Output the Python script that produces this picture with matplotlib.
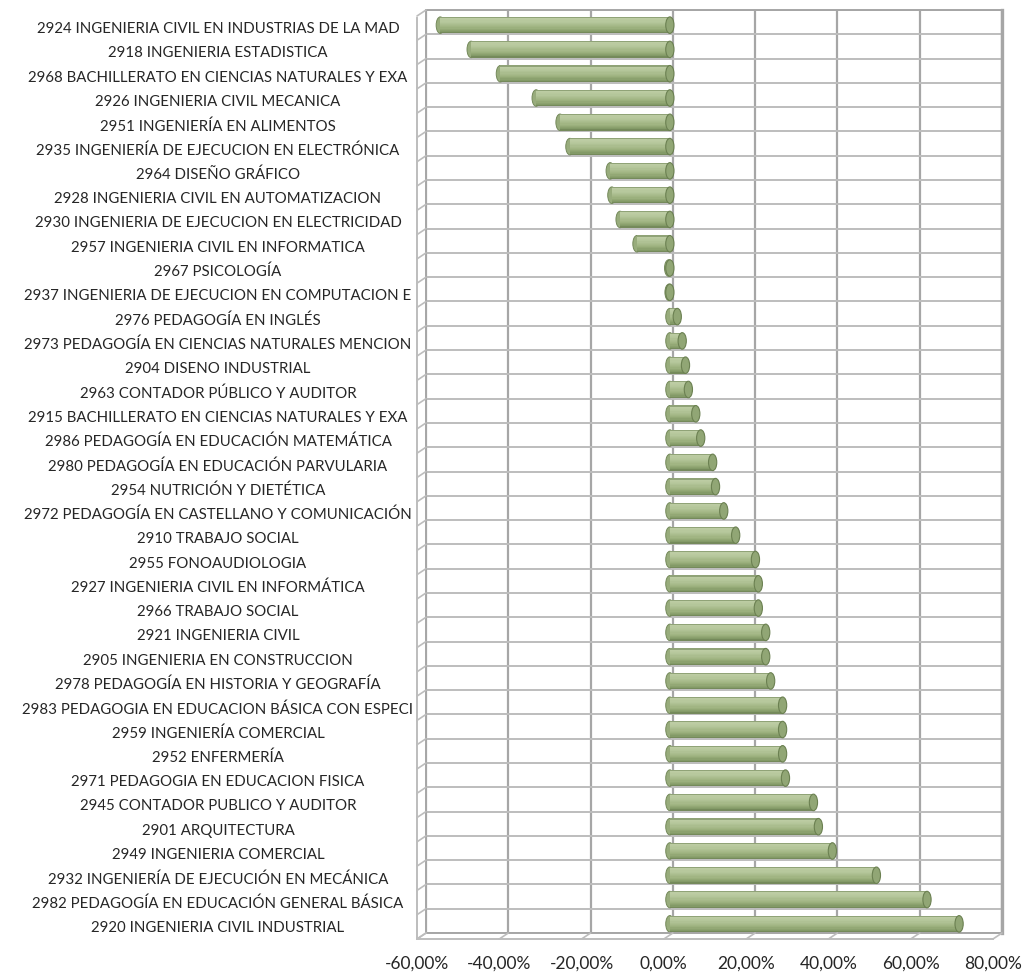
import numpy as np
import matplotlib
matplotlib.use("Agg")
import matplotlib.pyplot as plt
import matplotlib.transforms as mtransforms
from matplotlib.patches import Ellipse, ConnectionPatch

## Data (top to bottom)
carreras = [
    "2924 INGENIERIA CIVIL EN INDUSTRIAS DE LA MAD",
    "2918 INGENIERIA ESTADISTICA",
    "2968 BACHILLERATO EN CIENCIAS NATURALES Y EXA",
    "2926 INGENIERIA CIVIL MECANICA",
    "2951 INGENIERÍA EN ALIMENTOS",
    "2935 INGENIERÍA DE EJECUCION EN ELECTRÓNICA",
    "2964 DISEÑO GRÁFICO",
    "2928 INGENIERIA CIVIL EN AUTOMATIZACION",
    "2930 INGENIERIA DE EJECUCION EN ELECTRICIDAD",
    "2957 INGENIERIA CIVIL EN INFORMATICA",
    "2967 PSICOLOGÍA",
    "2937 INGENIERIA DE EJECUCION EN COMPUTACION E",
    "2976 PEDAGOGÍA EN INGLÉS",
    "2973 PEDAGOGÍA EN CIENCIAS NATURALES MENCION",
    "2904 DISENO INDUSTRIAL",
    "2963 CONTADOR PÚBLICO Y AUDITOR",
    "2915 BACHILLERATO EN CIENCIAS NATURALES Y EXA",
    "2986 PEDAGOGÍA EN EDUCACIÓN MATEMÁTICA",
    "2980 PEDAGOGÍA EN EDUCACIÓN PARVULARIA",
    "2954 NUTRICIÓN Y DIETÉTICA",
    "2972 PEDAGOGÍA EN CASTELLANO Y COMUNICACIÓN",
    "2910 TRABAJO SOCIAL",
    "2955 FONOAUDIOLOGIA",
    "2927 INGENIERIA CIVIL EN INFORMÁTICA",
    "2966 TRABAJO SOCIAL",
    "2921 INGENIERIA CIVIL",
    "2905 INGENIERIA EN CONSTRUCCION",
    "2978 PEDAGOGÍA EN HISTORIA Y GEOGRAFÍA",
    "2983 PEDAGOGIA EN EDUCACION BÁSICA CON ESPECI",
    "2959 INGENIERÍA COMERCIAL",
    "2952 ENFERMERÍA",
    "2971 PEDAGOGIA EN EDUCACION FISICA",
    "2945 CONTADOR PUBLICO Y AUDITOR",
    "2901 ARQUITECTURA",
    "2949 INGENIERIA COMERCIAL",
    "2932 INGENIERÍA DE EJECUCIÓN EN MECÁNICA",
    "2982 PEDAGOGÍA EN EDUCACIÓN GENERAL BÁSICA",
    "2920 INGENIERIA CIVIL INDUSTRIAL",
]
variacion = [
    -55.8, -48.3, -41.2, -32.5, -26.7, -24.3, -14.5, -14.1, -12.1, -8.0,
    -0.3, -0.2, 1.8, 3.0, 3.8, 4.5, 6.3, 7.5, 10.4, 11.1,
    13.1, 16.0, 20.8, 21.5, 21.5, 23.3, 23.3, 24.5, 27.4, 27.4,
    27.4, 28.1, 34.9, 36.1, 39.5, 50.2, 62.5, 70.3,
]
x_ticks = [-60, -40, -20, 0, 20, 40, 60, 80]

plt.rcParams["font.family"] = ["Lato", "DejaVu Sans"]

n = len(carreras)
fig = plt.figure(figsize=(10.24, 9.74), dpi=100)
ax = fig.add_axes([426/1024, 1 - 933/974, 576/1024, 923/974])
ax.set_xlim(x_ticks[0], x_ticks[-1])
ax.set_ylim(n - 0.5, -0.5)

grid_c = "#bdbdbd"
# back wall grid
for t in x_ticks:
    ax.axvline(t, color="#a6a6a6", lw=1.6, zorder=0)
for b in np.arange(-0.5, n, 1.0):
    ax.axhline(b, color=grid_c, lw=1.4, zorder=0)
for s in ax.spines.values():
    s.set_color("#a6a6a6")
    s.set_linewidth(1.4)
ax.spines["right"].set_linewidth(2.4)
ax.set_xticks([])
ax.set_yticks([])

# depth transforms (front plane and bar plane)
front = mtransforms.offset_copy(ax.transData, fig=fig, x=-9, y=-6, units="dots")
mid = mtransforms.offset_copy(ax.transData, fig=fig, x=-3, y=-3, units="dots")

# left wall and floor
ax.plot([x_ticks[0]] * 2, [-0.4, n - 0.5], color=grid_c, lw=1.4, transform=front, clip_on=False)
ax.plot([x_ticks[0], x_ticks[-1]], [n - 0.5] * 2, color=grid_c, lw=1.4, transform=front, clip_on=False)
for b in np.arange(-0.5, n, 1.0):
    fig.add_artist(ConnectionPatch((x_ticks[0], b), (x_ticks[0], b), ax.transData, front,
                                   color=grid_c, lw=1.2))
for t in x_ticks:
    fig.add_artist(ConnectionPatch((t, n - 0.5), (t, n - 0.5), ax.transData, front,
                                   color=grid_c, lw=1.2))

# cylinder bars
h = 0.68
ew = 2.0
stops = [0.0, 0.1, 0.3, 0.65, 0.9, 1.0]
cols = np.array([[0.47, 0.55, 0.37], [0.74, 0.80, 0.64], [0.71, 0.78, 0.61],
                 [0.62, 0.70, 0.50], [0.51, 0.60, 0.40], [0.43, 0.51, 0.33]])
ns = 14
for i, v in enumerate(variacion):
    left, right = min(0, v), max(0, v)
    ax.add_patch(Ellipse((left, i), ew, h, facecolor="#98ac7c", edgecolor="#74895a",
                         lw=0.7, transform=mid, zorder=2))
    for k in range(ns):
        f = (k + 0.5) / ns
        c = [np.interp(f, stops, cols[:, j]) for j in range(3)]
        yk = i - h / 2 + (k + 0.5) * h / ns
        ax.barh(yk, right - left, left=left, height=h / ns + 0.005, color=c,
                transform=mid, zorder=3, lw=0)
    ax.add_patch(Ellipse((right, i), ew, h, facecolor="#91a675", edgecolor="#6b8051",
                         lw=0.8, transform=mid, zorder=4))

# tick labels
for t in x_ticks:
    ax.annotate(f"{t:.2f}%".replace(".", ","), xy=(t, n - 0.5), xycoords=front,
                xytext=(0, -17), textcoords="offset pixels", ha="center", va="top",
                fontsize=12.5, color="#262626", annotation_clip=False)

ylab_tr = mtransforms.blended_transform_factory(fig.transFigure, ax.transData)
for i, name in enumerate(carreras):
    ax.annotate(name, xy=(218/1024, i), xycoords=ylab_tr, xytext=(0, -7),
                textcoords="offset pixels", ha="center", va="center",
                fontsize=10.8, color="#262626", annotation_clip=False)

fig.savefig("out.png", dpi=100, facecolor="white")
